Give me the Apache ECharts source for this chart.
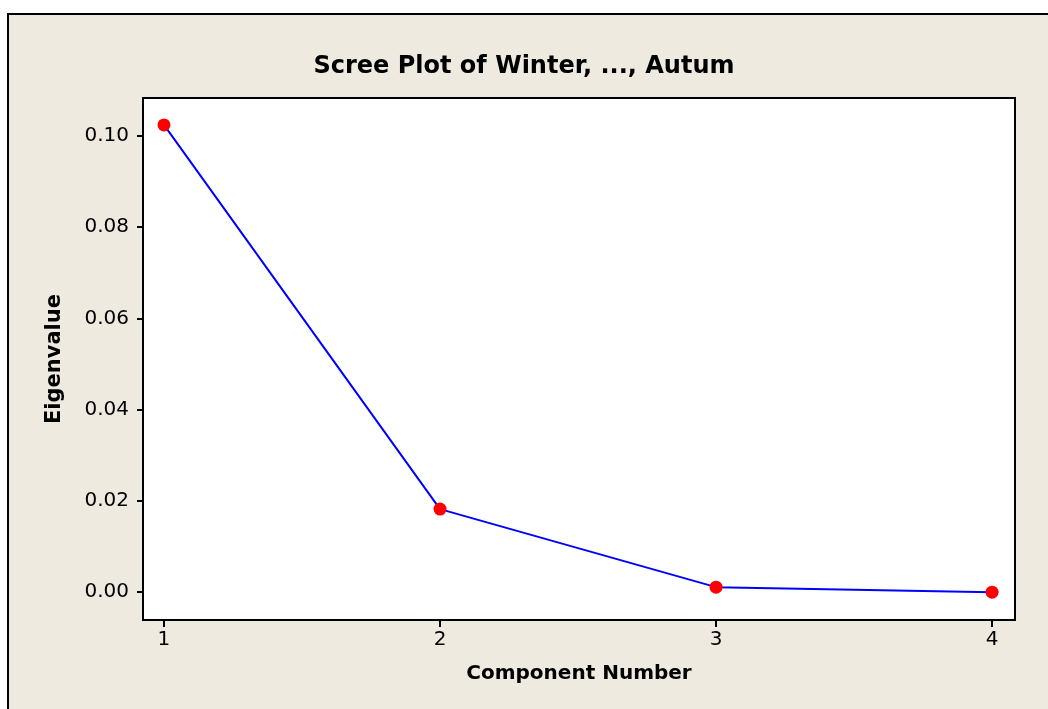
<!DOCTYPE html>
<html>
<head>
<meta charset="utf-8">
<script src="https://cdn.jsdelivr.net/npm/echarts@6/dist/echarts.min.js"></script>
<style>
  html, body { margin: 0; padding: 0; background: #ffffff; }
  #chart { width: 1048px; height: 709px; }
</style>
</head>
<body>
<div id="chart"></div>
<script>
// scree plot data
var components = [1, 2, 3, 4];
var eigenvalues = [0.1024, 0.0182, 0.0011, 0.0000];
var yTicks = [0.00, 0.02, 0.04, 0.06, 0.08, 0.10];

var pts = components.map(function (c, i) { return [c, eigenvalues[i]]; });
var fontFam = "DejaVu Sans";

var chart = echarts.init(document.getElementById("chart"));
chart.setOption({
    backgroundColor: "#ffffff",
    animation: false,
    graphic: [{
        type: "rect",
        shape: {x: 8, y: 14, width: 1060, height: 720},
        style: {fill: "#eeeae0", stroke: "#000000", lineWidth: 2},
        z: -10,
        silent: true
    }],
    title: {
        text: "Scree Plot of Winter, ..., Autum",
        left: "center",
        top: 50,
        textStyle: {fontFamily: fontFam, fontSize: 24, fontWeight: "bold", color: "#000"}
    },
    grid: {
        left: 143, top: 98, width: 872, height: 522,
        show: true, backgroundColor: "#ffffff", borderColor: "#000000", borderWidth: 2,
        containLabel: false
    },
    xAxis: {
        type: "value",
        min: 0.924, max: 4.083,
        name: "Component Number",
        nameLocation: "middle",
        nameGap: 44,
        nameTextStyle: {fontFamily: fontFam, fontSize: 20, fontWeight: "bold", color: "#000", verticalAlign: "top"},
        axisLine: {show: true, onZero: false, lineStyle: {color: "#000", width: 2}},
        axisTick: {show: true, inside: false, length: 7, customValues: components, lineStyle: {color: "#000", width: 2}},
        axisLabel: {customValues: components, fontFamily: fontFam, fontSize: 20, color: "#000", margin: 10},
        splitLine: {show: false}
    },
    yAxis: {
        type: "value",
        min: -0.0061, max: 0.1083,
        name: "Eigenvalue",
        nameLocation: "middle",
        nameGap: 78,
        nameTextStyle: {fontFamily: fontFam, fontSize: 21, fontWeight: "bold", color: "#000"},
        axisLine: {show: true, onZero: false, lineStyle: {color: "#000", width: 2}},
        axisTick: {show: true, inside: false, length: 6, customValues: yTicks, lineStyle: {color: "#000", width: 2}},
        axisLabel: {
            customValues: yTicks, fontFamily: fontFam, fontSize: 20, color: "#000", margin: 14,
            formatter: function (v) { return v.toFixed(2); }
        },
        splitLine: {show: false}
    },
    series: [{
        type: "line",
        data: pts,
        symbol: "circle",
        symbolSize: 13,
        itemStyle: {color: "#ff0000"},
        lineStyle: {color: "#0000ff", width: 2},
        z: 3
    }]
});
</script>
</body>
</html>
